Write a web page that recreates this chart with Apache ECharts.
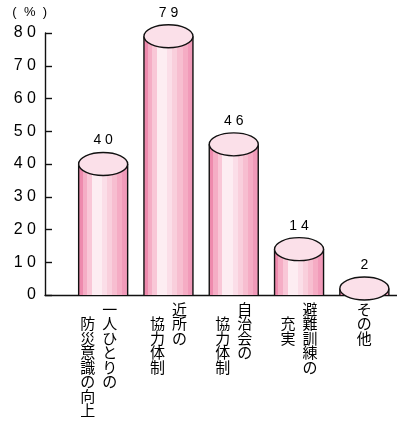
<!DOCTYPE html>
<html>
<head>
<meta charset="utf-8">
<script src="https://cdn.jsdelivr.net/npm/echarts@6/dist/echarts.min.js"></script>
<style>
  html, body { margin: 0; padding: 0; background: #fff; }
  #chart { width: 397px; height: 425px; }
</style>
</head>
<body>
<div id="chart"></div>
<script>
// ---- data ----
const categories = ['一人ひとりの\n防災意識の向上', '近所の\n協力体制', '自治会の\n協力体制', '避難訓練の\n充実', 'その他'];
const values = [40, 79, 46, 14, 2];
const yMin = 0, yMax = 80, yInterval = 10;
const yUnit = '(  %  )';

// ---- styling ----
const bodyGradient = [
  ['#ee8aad', 0.00], ['#ee8aad', 0.08],
  ['#f5adc5', 0.08], ['#f5adc5', 0.17],
  ['#f9c7d7', 0.17], ['#f9c7d7', 0.27],
  ['#fdedf2', 0.27], ['#fdedf2', 0.48],
  ['#fbdee8', 0.48], ['#fbdee8', 0.58],
  ['#f9cfdc', 0.58], ['#f9cfdc', 0.68],
  ['#f7bed0', 0.68], ['#f7bed0', 0.79],
  ['#f5acc4', 0.79], ['#f5acc4', 0.89],
  ['#f19ab9', 0.89], ['#f19ab9', 1.00]
].map(([c, o]) => ({ offset: o, color: c }));

const spaced = s => String(s).split('').join(' ');

function verticalLabel(name, idx) {
  const cols = name.split('\n');
  const pad = idx === 0 ? '{pad|\u3000}' : '';
  if (cols.length === 1) {
    return cols[0].split('').map(ch => '{c|' + ch + '}').join('\n');
  }
  const right = cols[0].split('');
  const left = cols[1].split('');
  const rows = Math.max(right.length, left.length + 1);
  const out = [];
  for (let r = 0; r < rows; r++) {
    const l = r === 0 ? '\u3000' : (left[r - 1] || '\u3000');
    const rc = right[r] || '\u3000';
    out.push('{c|' + l + '}{c|' + rc + '}' + pad);
  }
  return out.join('\n');
}

function renderItem(params, api) {
  const idx = api.value(0);
  const val = api.value(1);
  const top = api.coord([idx, val]);
  const base = api.coord([idx, 0]);
  const cx = top[0];
  const w = 49, rx = w / 2, ry = 11.5;
  return {
    type: 'group',
    children: [
      { type: 'rect', shape: { x: cx - rx, y: top[1], width: w, height: base[1] - top[1] },
        style: { fill: new echarts.graphic.LinearGradient(0, 0, 1, 0, bodyGradient) } },
      { type: 'line', shape: { x1: cx - rx, y1: top[1], x2: cx - rx, y2: base[1] },
        style: { stroke: '#111', lineWidth: 1.4 } },
      { type: 'line', shape: { x1: cx + rx, y1: top[1], x2: cx + rx, y2: base[1] },
        style: { stroke: '#111', lineWidth: 1.4 } },
      { type: 'ellipse', shape: { cx: cx, cy: top[1], rx: rx, ry: ry },
        style: { fill: '#fbe0e9', stroke: '#111', lineWidth: 1.4 } },
      { type: 'text', style: { text: spaced(val), x: cx, y: top[1] - ry - 5,
        align: 'center', verticalAlign: 'bottom', fill: '#000',
        font: '14px "Liberation Sans", Arial, sans-serif' } }
    ]
  };
}

const chart = echarts.init(document.getElementById('chart'), null, { renderer: 'canvas' });
chart.setOption({
  backgroundColor: '#fff',
  animation: false,
  grid: [
    { left: 70.5, right: -3.5, top: 33, bottom: 130 },   // data grid
    { left: 45, right: 0, top: 33, bottom: 130 }          // frame grid
  ],
  xAxis: [
    { type: 'category', gridIndex: 0, data: categories,
      axisLine: { show: false }, axisTick: { show: false },
      axisLabel: {
        interval: 0, margin: 7,
        formatter: (v, i) => verticalLabel(v, i),
        rich: {
          c: { width: 22, align: 'center', fontSize: 15, lineHeight: 14.5,
               fontFamily: '"Noto Sans CJK JP", sans-serif', color: '#000' },
          pad: { width: 9, fontSize: 15, lineHeight: 14.5 }
        }
      } },
    { type: 'category', gridIndex: 1, data: [''],
      axisLine: { show: true, lineStyle: { color: '#111', width: 1.4 } },
      axisTick: { show: false }, axisLabel: { show: false } }
  ],
  yAxis: [
    { type: 'value', gridIndex: 0, min: yMin, max: yMax, interval: yInterval, show: false },
    { type: 'value', gridIndex: 1, min: yMin, max: yMax, interval: yInterval,
      name: yUnit, nameLocation: 'end', nameGap: 14,
      nameTextStyle: { align: 'right', fontSize: 13, color: '#000', padding: [0, -2, 0, 0],
        fontFamily: '"Liberation Sans", Arial, sans-serif' },
      axisLine: { show: true, lineStyle: { color: '#111', width: 1.4 } },
      axisTick: { show: true, inside: true, length: 7, lineStyle: { color: '#111', width: 1.4 } },
      splitLine: { show: false },
      axisLabel: { margin: 9, fontSize: 16, color: '#000',
        fontFamily: '"Liberation Sans", Arial, sans-serif',
        formatter: v => spaced(v) } }
  ],
  series: [{
    type: 'custom',
    xAxisIndex: 0, yAxisIndex: 0,
    renderItem: renderItem,
    clip: false,
    encode: { x: 0, y: 1 },
    data: values.map((v, i) => [i, v])
  }]
});
</script>
</body>
</html>
